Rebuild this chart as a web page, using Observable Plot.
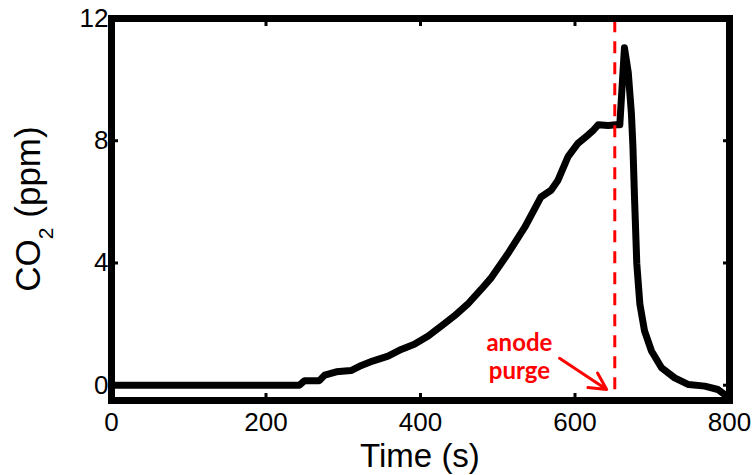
<!DOCTYPE html>
<html><head><meta charset="utf-8">
<script src="https://cdn.jsdelivr.net/npm/d3@7"></script>
<script src="https://cdn.jsdelivr.net/npm/@observablehq/plot@0.6"></script>
<style>body{margin:0;background:#fff} #chart svg{display:block}</style>
</head><body><div id="chart"></div>
<script>
// Data
const time = [0, 50, 100, 150, 200, 243, 250, 269, 276, 291, 310, 321, 338, 358, 375, 392, 410, 427, 444, 461, 479, 492, 513, 535, 556, 569, 578, 591, 604, 617, 624, 630, 643, 653, 658, 664, 669, 673, 675, 677, 680, 684, 690, 699, 712, 729, 747, 768, 785, 796];
const co2  = [0, 0, 0, 0, 0, 0, 0.15, 0.15, 0.33, 0.44, 0.48, 0.62, 0.79, 0.95, 1.17, 1.34, 1.61, 1.94, 2.27, 2.65, 3.15, 3.53, 4.30, 5.17, 6.16, 6.38, 6.71, 7.48, 7.92, 8.19, 8.35, 8.52, 8.50, 8.52, 8.52, 11.04, 10.22, 8.9, 7.8, 6.16, 3.97, 2.65, 1.78, 1.12, 0.57, 0.24, 0.02, -0.03, -0.14, -0.35];
const xTicks = [0, 200, 400, 600, 800];
const yTicks = [0, 4, 8, 12];
const xLabel = "Time (s)";
const yLabelMain = "CO", yLabelSub = "2", yLabelUnit = "\u00a0(ppm)";
const purgeTime = [651.5];
const purgeLow = -0.15, purgeHigh = 11.9;
const noteText = ["anode", "purge"];
const noteX = [528, 528];
const noteY = [1.36, 0.44];
const arrows = [{x1: 580, y1: 0.88, x2: 641, y2: -0.14}];

const data = time.map((t, i) => ({t, v: co2[i]}));

const plot = Plot.plot({
  width: 755, height: 475,
  marginLeft: 111, marginRight: 26, marginTop: 18, marginBottom: 75,
  x: {domain: [0, 800]},
  y: {domain: [-0.5, 12]},
  style: {fontFamily: "'Liberation Sans', Arial, sans-serif", fontSize: "26px", color: "black", background: "white"},
  marks: [
    Plot.line(data, {x: "t", y: "v", stroke: "black", strokeWidth: 7, strokeLinejoin: "round", strokeLinecap: "round"}),
    Plot.ruleX(purgeTime, {x: d => d, y1: purgeLow, y2: purgeHigh, stroke: "#ff0000", strokeWidth: 3, strokeDasharray: "12,9"}),
    Plot.arrow(arrows, {x1: "x1", y1: "y1", x2: "x2", y2: "y2", stroke: "#ff0000", strokeWidth: 3, headLength: 14, headAngle: 55}),
    Plot.text(noteText, {x: (d, i) => noteX[i], y: (d, i) => noteY[i], text: d => d, fill: "#ff0000", fontSize: 24, fontWeight: "bold", fontFamily: "Lato, 'Open Sans', sans-serif"}),
    Plot.axisX({anchor: "bottom", ticks: xTicks, tickSize: 0, tickPadding: 12, label: null}),
    Plot.axisX({anchor: "bottom", ticks: xTicks, tickSize: -7, strokeWidth: 3, tickFormat: () => "", label: null}),
    Plot.axisX({anchor: "top", ticks: xTicks, tickSize: -7, strokeWidth: 3, tickFormat: () => "", label: null}),
    Plot.axisY({anchor: "left", ticks: yTicks, tickSize: 0, tickPadding: 3, label: null}),
    Plot.axisY({anchor: "left", ticks: yTicks, tickSize: -7, strokeWidth: 3, tickFormat: () => "", label: null}),
    Plot.axisY({anchor: "right", ticks: yTicks, tickSize: -7, strokeWidth: 3, tickFormat: () => "", label: null}),
    Plot.frame({stroke: "black", strokeWidth: 7})
  ]
});

document.getElementById("chart").appendChild(plot);

const svg = d3.select(plot);
const xr = plot.scale("x").range;
const yr = plot.scale("y").range;
svg.append("text")
  .attr("x", (xr[0] + xr[1]) / 2).attr("y", 467)
  .attr("text-anchor", "middle").attr("font-size", 33).attr("fill", "black")
  .attr("font-family", "'Liberation Sans', Arial, sans-serif")
  .text(xLabel);
const yl = svg.append("text")
  .attr("transform", `translate(39.5, ${(yr[0] + yr[1]) / 2}) rotate(-90)`)
  .attr("text-anchor", "middle").attr("font-size", 35).attr("fill", "black")
  .attr("font-family", "'Liberation Sans', Arial, sans-serif");
yl.append("tspan").text(yLabelMain);
yl.append("tspan").attr("font-size", 21).attr("dy", 13).text(yLabelSub);
yl.append("tspan").attr("dy", -13).text(yLabelUnit);
</script>
</body></html>
